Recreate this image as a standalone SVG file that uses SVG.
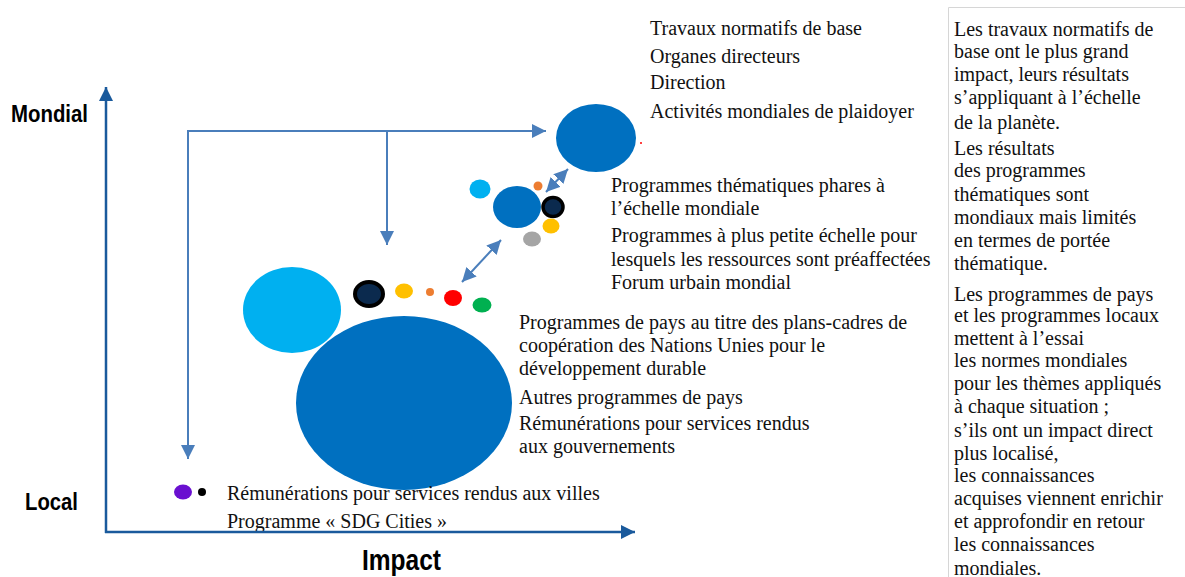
<svg xmlns="http://www.w3.org/2000/svg" width="1185" height="577" viewBox="0 0 1185 577">
<style>
.t{font-family:"Liberation Serif","Times New Roman",serif;font-size:20px;fill:#111}
.ax{font-family:"Liberation Sans",Arial,sans-serif;font-weight:bold;fill:#000}
.axis{stroke:#1a5a9c;stroke-width:2.5;fill:none}
.con{stroke:#4a7ebb;stroke-width:2;fill:none}
</style>
<defs>
<marker id="ah" markerUnits="userSpaceOnUse" markerWidth="16" markerHeight="16" refX="14" refY="7" orient="auto">
<path d="M0,0 L14,7 L0,14 Z" fill="#1a5a9c"/>
</marker>
<marker id="ch" markerUnits="userSpaceOnUse" markerWidth="16" markerHeight="16" refX="14" refY="7" orient="auto-start-reverse">
<path d="M0,0 L14,7 L0,14 Z" fill="#4a7ebb"/>
</marker>
</defs>
<rect width="1185" height="577" fill="#fff"/>
<g id="panel">
<path d="M948.5,577 V7.5 H1185" fill="none" stroke="#d6d6d6" stroke-width="1"/>
<text class="t" x="954"><tspan x="954" y="36">Les travaux normatifs de</tspan><tspan x="954" y="58">base ont le plus grand</tspan><tspan x="954" y="81">impact, leurs résultats</tspan><tspan x="954" y="104">s’appliquant à l’échelle</tspan><tspan x="954" y="129">de la planète.</tspan><tspan x="954" y="155">Les résultats</tspan><tspan x="954" y="177">des programmes</tspan><tspan x="954" y="201">thématiques sont</tspan><tspan x="954" y="224">mondiaux mais limités</tspan><tspan x="954" y="247">en termes de portée</tspan><tspan x="954" y="270">thématique.</tspan><tspan x="954" y="301">Les programmes de pays</tspan><tspan x="954" y="322">et les programmes locaux</tspan><tspan x="954" y="345">mettent à l’essai</tspan><tspan x="954" y="367">les normes mondiales</tspan><tspan x="954" y="390">pour les thèmes appliqués</tspan><tspan x="954" y="413">à chaque situation ;</tspan><tspan x="954" y="437">s’ils ont un impact direct</tspan><tspan x="954" y="460">plus localisé,</tspan><tspan x="954" y="482">les connaissances</tspan><tspan x="954" y="505">acquises viennent enrichir</tspan><tspan x="954" y="528">et approfondir en retour</tspan><tspan x="954" y="551">les connaissances</tspan><tspan x="954" y="575">mondiales.</tspan></text>
</g>
<g id="labels">
<text class="ax" x="11" y="122" font-size="24" textLength="77" lengthAdjust="spacingAndGlyphs">Mondial</text>
<text class="ax" x="25" y="510" font-size="24" textLength="53" lengthAdjust="spacingAndGlyphs">Local</text>
<text class="ax" x="362" y="570" font-size="30" textLength="79" lengthAdjust="spacingAndGlyphs">Impact</text>
</g>
<g id="node-global">
<ellipse cx="596" cy="138" rx="40" ry="34" fill="#0070c0"/>
<circle cx="641" cy="143" r="1" fill="#ff0000"/>
<text class="t"><tspan x="650" y="35">Travaux normatifs de base</tspan><tspan x="650" y="63">Organes directeurs</tspan><tspan x="650" y="89">Direction</tspan><tspan x="650" y="118">Activités mondiales de plaidoyer</tspan></text>
</g>
<g id="node-thematic">
<ellipse cx="517" cy="207" rx="24" ry="21" fill="#0070c0"/>
<ellipse cx="480" cy="189" rx="10.5" ry="9.5" fill="#00b0f0"/>
<circle cx="538" cy="186" r="4.5" fill="#ed7d31"/>
<ellipse cx="553" cy="207" rx="10" ry="9.5" fill="#0b2a4e" stroke="#000" stroke-width="3.5"/>
<ellipse cx="551" cy="226" rx="8.5" ry="7.5" fill="#ffc000"/>
<ellipse cx="532" cy="239" rx="9" ry="7.5" fill="#a5a5a5"/>
<text class="t"><tspan x="611" y="192">Programmes thématiques phares à</tspan><tspan x="611" y="215">l’échelle mondiale</tspan><tspan x="611" y="242">Programmes à plus petite échelle pour</tspan><tspan x="611" y="266">lesquels les ressources sont préaffectées</tspan><tspan x="611" y="289">Forum urbain mondial</tspan></text>
</g>
<g id="node-country">
<ellipse cx="292" cy="310" rx="49" ry="43" fill="#00b0f0"/>
<ellipse cx="404" cy="403" rx="108" ry="87" fill="#0070c0"/>
<ellipse cx="369" cy="294" rx="14" ry="12" fill="#0b2a4e" stroke="#000" stroke-width="4"/>
<ellipse cx="404" cy="291" rx="9" ry="7.5" fill="#ffc000"/>
<circle cx="430" cy="292" r="4" fill="#ed7d31"/>
<ellipse cx="453" cy="298" rx="9" ry="8" fill="#ff0000"/>
<ellipse cx="482" cy="305" rx="9.5" ry="7.5" fill="#00b050"/>
<text class="t"><tspan x="519" y="329">Programmes de pays au titre des plans-cadres de</tspan><tspan x="519" y="352">coopération des Nations Unies pour le</tspan><tspan x="519" y="375">développement durable</tspan><tspan x="519" y="404">Autres programmes de pays</tspan><tspan x="519" y="430">Rémunérations pour services rendus</tspan><tspan x="519" y="453">aux gouvernements</tspan></text>
</g>
<g id="node-local">
<ellipse cx="183" cy="492" rx="9" ry="7.5" fill="#6a10d0"/>
<circle cx="202" cy="492" r="4" fill="#000"/>
<text class="t"><tspan x="227" y="500">Rémunérations pour services rendus aux villes</tspan><tspan x="227" y="528">Programme « SDG Cities »</tspan></text>
</g>
<g id="connectors">
<path class="con" d="M188,459 V131 H546" marker-start="url(#ch)" marker-end="url(#ch)"/>
<path class="con" d="M387,131 V245" marker-end="url(#ch)"/>
<path class="con" d="M546,192 L568,169" marker-start="url(#ch)" marker-end="url(#ch)"/>
<path class="con" d="M462,282 L501,240" marker-start="url(#ch)" marker-end="url(#ch)"/>
</g>
<g id="axes">
<path class="axis" d="M106,533 V87" marker-end="url(#ah)"/>
<path class="axis" d="M105,532 H635" marker-end="url(#ah)"/>
</g>
</svg>
